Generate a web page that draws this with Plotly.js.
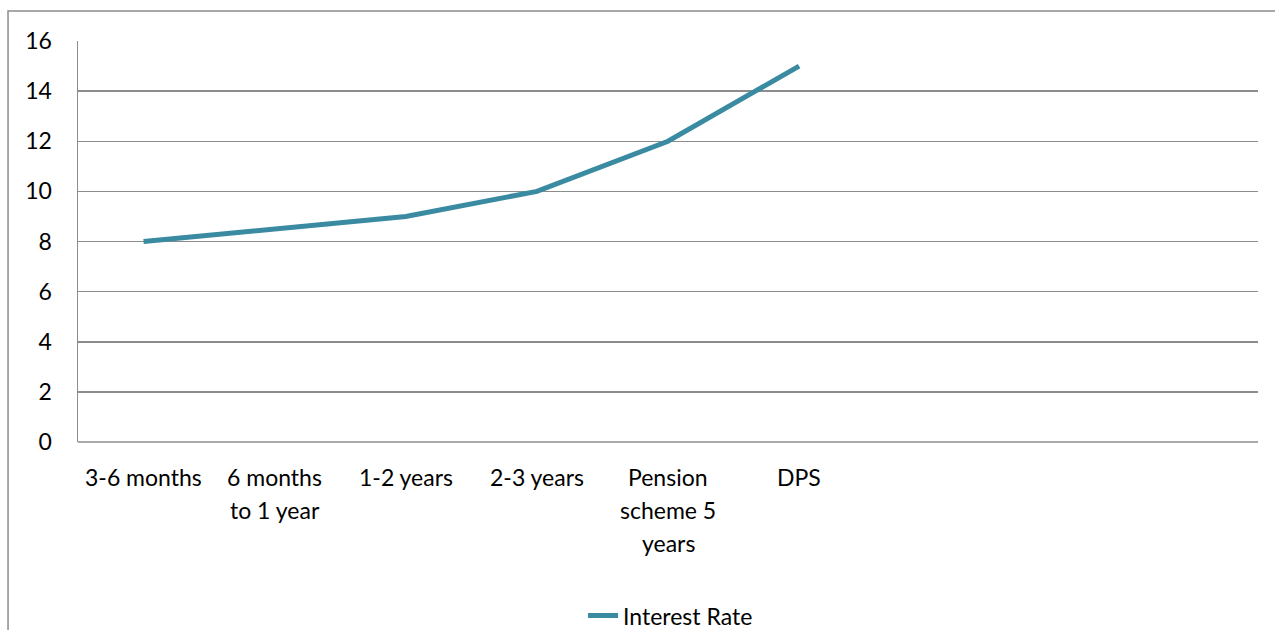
<!DOCTYPE html>
<html>
<head>
<meta charset="utf-8">
<script src="https://cdn.plot.ly/plotly-3.0.1.min.js"></script>
<style>
  html, body { margin: 0; padding: 0; background: #ffffff; }
  #chart { width: 1275px; height: 630px; }
</style>
</head>
<body>
<div id="chart"></div>
<script>
// Savings products and their interest rate (%)
const categories = ['3-6 months', '6 months to 1 year', '1-2 years', '2-3 years', 'Pension scheme 5 years', 'DPS'];
const interestRate = [8, 8.5, 9, 10, 12, 15];
// How each category name wraps under the axis
const tickLines = [
  ['3-6 months'],
  ['6 months', 'to 1 year'],
  ['1-2 years'],
  ['2-3 years'],
  ['Pension', 'scheme 5', 'years'],
  ['DPS']
];
const yTicks = [0, 2, 4, 6, 8, 10, 12, 14, 16];
const seriesName = 'Interest Rate';

const FONT = 'Lato, "Open Sans", sans-serif';
const FONT_SIZE = 23;
const GRID = '#8c8c8c';

// Wrapped category labels, one line per annotation
const annotations = [];
tickLines.forEach((lines, i) => {
  lines.forEach((line, j) => {
    annotations.push({
      x: categories[i], xref: 'x',
      y: 0, yref: 'paper',
      yanchor: 'middle', xanchor: 'center',
      yshift: -35 - 33 * j,
      text: line, showarrow: false,
      font: { family: FONT, size: FONT_SIZE, color: '#000000' }
    });
  });
});

const trace = {
  type: 'scatter',
  mode: 'lines',
  name: seriesName,
  x: categories,
  y: interestRate,
  line: { color: '#3a8ba2', width: 5 },
  hoverinfo: 'x+y'
};

const layout = {
  width: 1275,
  height: 630,
  margin: { l: 78, r: 17, t: 41, b: 188, autoexpand: false },
  paper_bgcolor: '#ffffff',
  plot_bgcolor: '#ffffff',
  font: { family: FONT, size: FONT_SIZE, color: '#000000' },
  showlegend: true,
  legend: {
    orientation: 'h',
    x: 0.428, xanchor: 'left',
    y: -0.433, yanchor: 'middle',
    font: { family: FONT, size: FONT_SIZE, color: '#000000' },
    bgcolor: 'rgba(0,0,0,0)'
  },
  xaxis: {
    type: 'category',
    categoryorder: 'array',
    categoryarray: categories,
    range: [-0.5, 8.5],
    showticklabels: false,
    showgrid: false,
    zeroline: false,
    showline: false,
    ticks: ''
  },
  yaxis: {
    range: [0, 16],
    tickvals: yTicks,
    showgrid: true,
    gridcolor: GRID,
    gridwidth: 1.5,
    zeroline: false,
    showline: true,
    linecolor: GRID,
    linewidth: 1.5,
    ticks: '',
    ticklabelstandoff: 20,
    tickfont: { family: FONT, size: FONT_SIZE, color: '#000000' }
  },
  annotations: annotations,
  shapes: [
    // outer chart border (left and top edges)
    {
      type: 'path', xref: 'paper', yref: 'paper',
      path: 'M -0.0593,-0.48 L -0.0593,1.0748 L 1.02,1.0748',
      line: { color: GRID, width: 1.5 }
    },
    // bottom edge of plot area
    {
      type: 'line', xref: 'paper', yref: 'paper',
      x0: 0, x1: 1, y0: 0, y1: 0,
      line: { color: GRID, width: 1.5 }
    }
  ]
};

Plotly.newPlot('chart', [trace], layout, { displayModeBar: false, staticPlot: true });
</script>
</body>
</html>
